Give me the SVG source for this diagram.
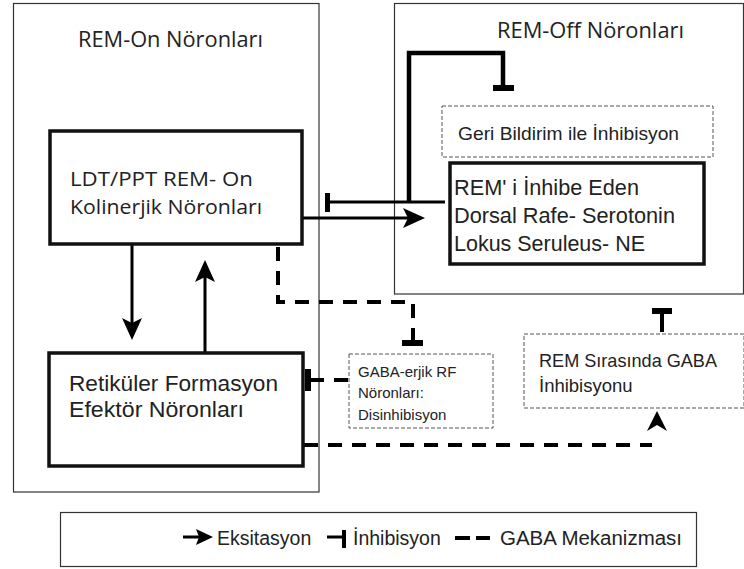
<svg xmlns="http://www.w3.org/2000/svg" width="744" height="569" viewBox="0 0 744 569">
<style>
.bg{fill:#fff}
.outer{fill:none;stroke:#333;stroke-width:1.2}
.thick{fill:#fff;stroke:#111;stroke-width:3.5}
.dbox{fill:#fff;stroke:#555;stroke-width:1;stroke-dasharray:4 2}
.seg{font-family:"Open Sans","Noto Sans",sans-serif;fill:#222}
.ar{font-family:"Liberation Sans",Arial,sans-serif;fill:#222}
.solid{fill:none;stroke:#000;stroke-width:3}
.fb{fill:none;stroke:#000;stroke-width:4.5}
.dash{fill:none;stroke:#000;stroke-width:4;stroke-dasharray:14 10}
.bar{fill:#000}
</style>
<defs>
<marker id="arr" viewBox="0 0 22 20" refX="18" refY="10" markerWidth="22" markerHeight="20" markerUnits="userSpaceOnUse" orient="auto">
<path d="M0,0 L22,10 L0,20 L5,10 z" fill="#000"/>
</marker>
</defs>
<rect class="bg" x="0" y="0" width="744" height="569"/>

<g id="rem-on-group">
<rect class="outer" x="13.5" y="3.5" width="305.5" height="488.5"/>
<text class="seg" x="78" y="47" font-size="21" textLength="185" lengthAdjust="spacingAndGlyphs">REM-On Nöronları</text>
</g>
<g id="rem-off-group">
<rect class="outer" x="394.5" y="3.5" width="349" height="290.5"/>
<text class="seg" x="497" y="38" font-size="21" textLength="187" lengthAdjust="spacingAndGlyphs">REM-Off Nöronları</text>
</g>

<g id="connectors">
<line class="solid" x1="132" y1="245" x2="132" y2="336" marker-end="url(#arr)"/>
<line class="solid" x1="205" y1="352" x2="205" y2="264" marker-end="url(#arr)"/>
<line class="solid" x1="303" y1="218" x2="421" y2="218" marker-end="url(#arr)"/>
<line class="solid" x1="445" y1="202" x2="328" y2="202"/>
<rect class="bar" x="325" y="193" width="5" height="19"/>
<path class="fb" d="M409,202 V53 H503 V87"/>
<rect class="bar" x="493" y="85" width="21" height="6"/>
<path class="dash" d="M278,247 V302 H413 V342"/>
<rect class="bar" x="402" y="340" width="21" height="6"/>
<line class="dash" x1="348" y1="380" x2="310" y2="380" stroke-dasharray="12 9"/>
<rect class="bar" x="305" y="369" width="6" height="22"/>
<line class="dash" x1="304" y1="445" x2="652" y2="445"/>
<path d="M657,411 L667,431 L657,425 L647,431 z" fill="#000"/>
<line x1="662" y1="332" x2="662" y2="310" stroke="#000" stroke-width="4"/>
<rect class="bar" x="652" y="308" width="20" height="6"/>
</g>

<g id="ldt">
<rect class="thick" x="50" y="131" width="252" height="113"/>
<text class="seg" x="70" y="186" font-size="20" textLength="183" lengthAdjust="spacingAndGlyphs">LDT/PPT REM- On</text>
<text class="seg" x="70" y="214" font-size="20" textLength="192" lengthAdjust="spacingAndGlyphs">Kolinerjik Nöronları</text>
</g>

<g id="rf">
<rect class="thick" x="49" y="353" width="254" height="113"/>
<text class="ar" x="69" y="391" font-size="22.5" textLength="209" lengthAdjust="spacingAndGlyphs">Retiküler Formasyon</text>
<text class="ar" x="69" y="417" font-size="22.5" textLength="175" lengthAdjust="spacingAndGlyphs">Efektör Nöronları</text>
</g>

<g id="geri">
<rect class="dbox" x="442" y="106" width="271" height="51"/>
<text class="ar" x="458" y="140" font-size="19" textLength="221" lengthAdjust="spacingAndGlyphs">Geri Bildirim ile İnhibisyon</text>
</g>

<g id="rem-inhibit">
<rect class="thick" x="450" y="163" width="254" height="101"/>
<text class="ar" x="454" y="195" font-size="21.5" textLength="185" lengthAdjust="spacingAndGlyphs">REM' i İnhibe Eden</text>
<text class="ar" x="454" y="223" font-size="21.5" textLength="221" lengthAdjust="spacingAndGlyphs">Dorsal Rafe- Serotonin</text>
<text class="ar" x="454" y="251" font-size="21.5" textLength="191" lengthAdjust="spacingAndGlyphs">Lokus Seruleus- NE</text>
</g>

<g id="gaba-rf">
<rect class="dbox" x="349" y="354" width="144" height="74"/>
<text class="ar" x="358" y="377" font-size="15">GABA-erjik RF</text>
<text class="ar" x="358" y="398" font-size="15">Nöronları:</text>
<text class="ar" x="358" y="420" font-size="15">Disinhibisyon</text>
</g>

<g id="rem-gaba">
<rect class="dbox" x="524" y="334" width="220" height="74"/>
<text class="ar" x="539" y="367" font-size="18.5" textLength="178" lengthAdjust="spacingAndGlyphs">REM Sırasında GABA</text>
<text class="ar" x="539" y="392" font-size="18.5">İnhibisyonu</text>
</g>

<g id="legend">
<rect class="outer" x="60.5" y="512.5" width="636" height="54"/>
<line x1="183" y1="537" x2="200" y2="537" stroke="#000" stroke-width="3"/>
<path d="M196,529 L213,537 L196,545 L199,537 z" fill="#000"/>
<text class="ar" x="217" y="545" font-size="19.5">Eksitasyon</text>
<line x1="327" y1="537" x2="343" y2="537" stroke="#000" stroke-width="3"/>
<rect class="bar" x="342" y="530" width="4" height="18"/>
<text class="ar" x="353" y="545" font-size="19.5">İnhibisyon</text>
<line x1="455" y1="538" x2="470" y2="538" stroke="#000" stroke-width="4"/>
<line x1="476" y1="538" x2="490" y2="538" stroke="#000" stroke-width="4"/>
<text class="ar" x="500" y="545" font-size="19.5" textLength="182" lengthAdjust="spacingAndGlyphs">GABA Mekanizması</text>
</g>
</svg>
